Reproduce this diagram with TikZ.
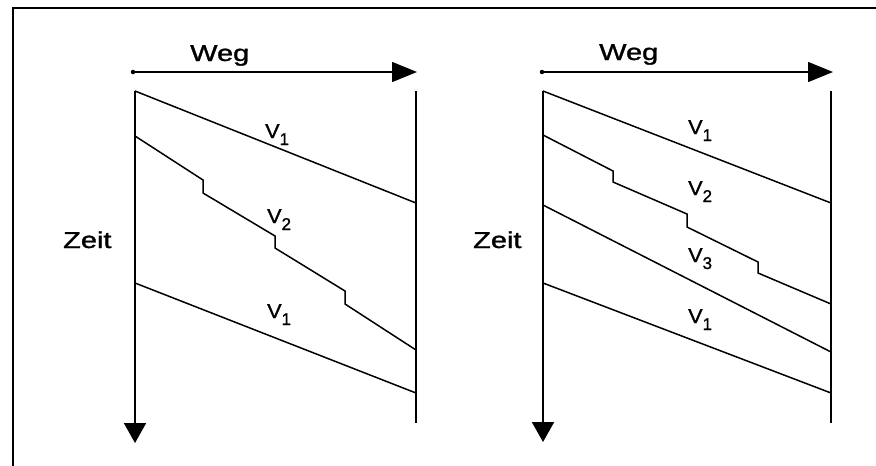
\documentclass[tikz,border=0pt]{standalone}
\usepackage{fontspec}
\setmainfont{Liberation Sans}
\newfontfamily\heavyfont[FakeBold=1.2]{Liberation Sans}
\usetikzlibrary{arrows.meta}
\newcommand\myvsub[1]{\scalebox{1.08}[1]{V}\raisebox{-7pt}{\fontsize{17}{17}\selectfont #1}}
\newcommand\mywide[1]{\scalebox{1.26}[1]{#1}}
\begin{document}
\begin{tikzpicture}[x=1pt,y=-1pt,
  frameline/.style={line width=2.2pt},
  axisline/.style={line width=2pt},
  curve/.style={line width=1.5pt, line join=miter},
  wegarrow/.style={line width=1.5pt, -{Triangle[length=25pt,width=20pt]}},
  zeitarrow/.style={line width=2pt, -{Triangle[length=20pt,width=22pt]}},
  dotstart/.style={circle, fill=black, inner sep=0pt, minimum size=4.5pt},
  axlbl/.style={font=\fontsize{23}{27}\heavyfont, inner sep=0pt, anchor=base west},
  vlbl/.style={font=\fontsize{20}{24}\heavyfont, inner sep=0pt, anchor=base west}]
\useasboundingbox (0,0) rectangle (876,466);
% frame
\coordinate (fbl) at (13,466);
\coordinate (ftl) at (13,8);
\coordinate (ftr) at (876,8);
\draw[frameline] (fbl) -- (ftl) -- (ftr);

% ===== left diagram =====
\node[dotstart] (Lws) at (133,72) {};
\coordinate (Lwe) at (417,72);
\draw[wegarrow] (Lws.center) -- (Lwe);
\node[axlbl] (Lweg) at (190,61) {\mywide{Weg}};
\coordinate (Lat) at (135,91);
\coordinate (Lab) at (135,443);
\draw[zeitarrow] (Lat) -- (Lab);
\coordinate (Lrt) at (416,91);
\coordinate (Lrb) at (416,423);
\draw[axisline] (Lrt) -- (Lrb);
\node[axlbl] (Lzeit) at (63,248) {\mywide{Zeit}};
% lines
\draw[curve] (Lat) -- (416,203);
\draw[curve] (135,136) -- (203,180) -- (203,193) -- (275,236) -- (275,248)
  -- (345,291) -- (345,304) -- (416,350);
\draw[curve] (135,283) -- (416,393);
\node[vlbl] (Lv1a) at (265,138) {\myvsub{1}};
\node[vlbl] (Lv2) at (267,223) {\myvsub{2}};
\node[vlbl] (Lv1b) at (267,318) {\myvsub{1}};

% ===== right diagram =====
\node[dotstart] (Rws) at (542,72) {};
\coordinate (Rwe) at (833,72);
\draw[wegarrow] (Rws.center) -- (Rwe);
\node[axlbl] (Rweg) at (599,60) {\mywide{Weg}};
\coordinate (Rat) at (543,91);
\coordinate (Rab) at (543,442);
\draw[zeitarrow] (Rat) -- (Rab);
\coordinate (Rrt) at (831,91);
\coordinate (Rrb) at (831,423);
\draw[axisline] (Rrt) -- (Rrb);
\node[axlbl] (Rzeit) at (473,248) {\mywide{Zeit}};
% lines
\draw[curve] (Rat) -- (831,203);
\draw[curve] (543,135) -- (613,171) -- (613,182) -- (687,214) -- (687,227)
  -- (758,262) -- (758,273) -- (831,304);
\draw[curve] (543,205) -- (831,352);
\draw[curve] (543,283) -- (831,393);
\node[vlbl] (Rv1a) at (688,134) {\myvsub{1}};
\node[vlbl] (Rv2) at (688,195) {\myvsub{2}};
\node[vlbl] (Rv3) at (688,262) {\myvsub{3}};
\node[vlbl] (Rv1b) at (688,323) {\myvsub{1}};
\end{tikzpicture}
\end{document}
